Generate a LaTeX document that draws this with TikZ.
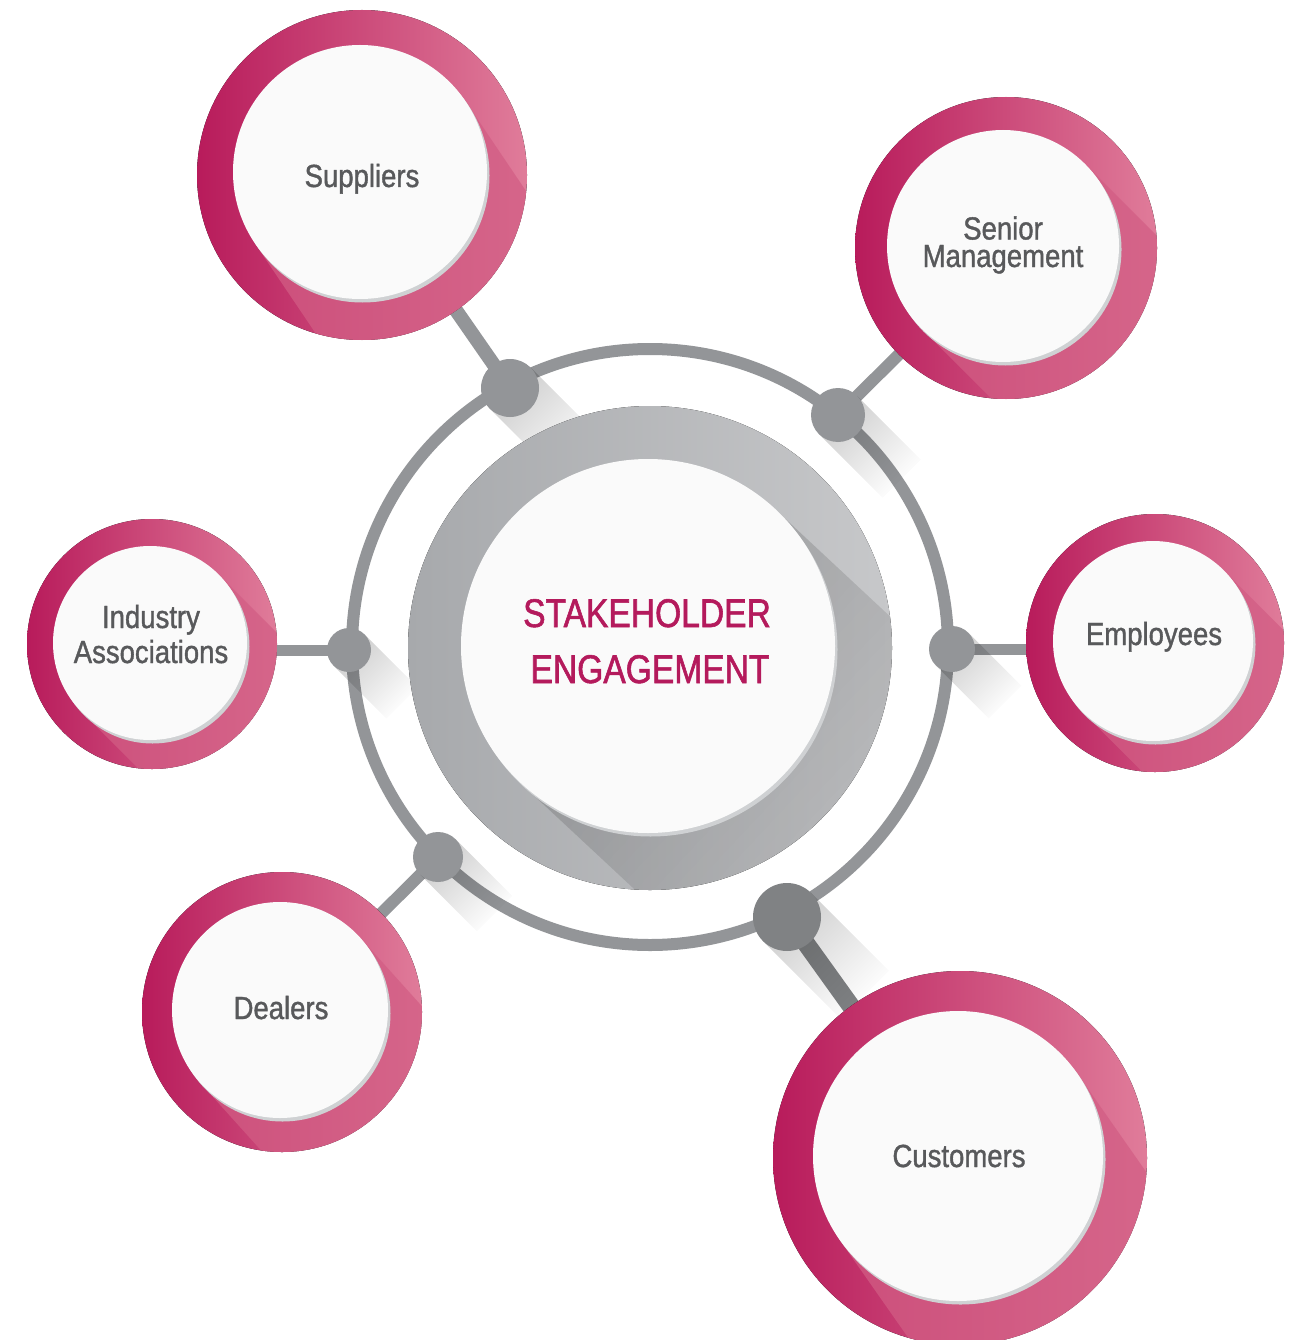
\documentclass[tikz,border=0pt]{standalone}
\usepackage{fontspec}
\setmainfont{Liberation Sans}[FakeStretch=0.86, FakeBold=1.2]
\newfontfamily\centerfont{Liberation Sans}[FakeStretch=0.84, FakeBold=1.4]
\usetikzlibrary{calc,fadings}
\definecolor{pinkL}{HTML}{B81B5B}
\definecolor{pinkM}{HTML}{C8326C}
\definecolor{pinkR}{HTML}{E07C9A}
\definecolor{pinkBand}{HTML}{D25D84}
\definecolor{ringgray}{HTML}{939598}
\definecolor{darkdot}{HTML}{808284}
\definecolor{diskL}{HTML}{A7A9AC}
\definecolor{diskR}{HTML}{C7C8CA}
\definecolor{whitedisk}{HTML}{FAFAFA}
\definecolor{lblgray}{HTML}{58595B}
\definecolor{titlemag}{HTML}{B41A5C}
\definecolor{rimshadow}{HTML}{CFD1D3}
\tikzfading[name=fadeaway, left color=transparent!0, right color=transparent!100]
\tikzset{
  pinkring/.style={left color=pinkL, middle color=pinkM, right color=pinkR},
  conn/.style={draw=ringgray, line cap=butt},
  dotfill/.style={fill=ringgray},
  lbl/.style={font=\fontsize{32}{34}\selectfont, text=lblgray, anchor=base, inner sep=0pt},
  lbltwo/.style={lbl, align=center},
  ttl/.style={font=\centerfont\fontsize{40}{44}\selectfont, text=titlemag, anchor=base, inner sep=0pt},
  dotshadow/.style={fill=black, opacity=.2, path fading=fadeaway, fading angle=-45},
}
% band swept from a circle: #1 centre, #2 half width, #3 length, #4 image angle, #5 style
\newcommand{\sweptband}[5]{%
  \fill[#5] ($(#1)+({#4-90}:#2)$) -- ($(#1)+({#4-90}:#2)+({#4}:#3)$) --
    ($(#1)+({#4+90}:#2)+({#4}:#3)$) -- ($(#1)+({#4+90}:#2)$) -- cycle;}
% satellite disk: #1 outer centre, #2 outer r, #3 inner centre, #4 inner r, #5 band angle
\newcommand{\satellite}[5]{%
  \fill[pinkring] (#1) circle[radius=#2pt];
  \begin{scope}
    \clip (#1) circle[radius=#2pt];
    \sweptband{#3}{#4}{2*#2}{#5}{pinkBand, opacity=.73}
  \end{scope}
  \fill[rimshadow] ($(#3)+(2.5,3.5)$) circle[radius=#4pt];
  \fill[whitedisk] (#3) circle[radius=#4pt];}
\begin{document}
\begin{tikzpicture}[x=1pt,y=-1pt]
\fill[white] (0,0) rectangle (1295,1340);
\useasboundingbox (0,0) rectangle (1295,1340);
% centres
\coordinate (supO) at (362,175);  \coordinate (supI) at (360,172);
\coordinate (senO) at (1006,248); \coordinate (senI) at (1003,246);
\coordinate (indO) at (152,644);  \coordinate (indI) at (150,643);
\coordinate (empO) at (1155,643); \coordinate (empI) at (1153,641);
\coordinate (dealO) at (282,1012); \coordinate (dealI) at (280,1010);
\coordinate (cusO) at (960,1158); \coordinate (cusI) at (958,1156);
\coordinate (ringC) at (650,647);
\coordinate (grayC) at (650,648);
\coordinate (whiteC) at (648,646);
% dots on ring
\coordinate (dSup) at (510,388);
\coordinate (dSen) at (838,415);
\coordinate (dInd) at (349,650);
\coordinate (dEmp) at (952,649);
\coordinate (dDeal) at (438,857);
\coordinate (dCus) at (787,917);
% connectors
\draw[conn, line width=14pt] (dSup) -- (supO);
\draw[conn, line width=12pt] (dSen) -- (senO);
\draw[conn, line width=11pt] (dInd) -- (dInd -| indO);
\draw[conn, line width=11pt] (dEmp) -- (dEmp -| empO);
\draw[conn, line width=12pt] (dDeal) -- (dealO);
\draw[conn, draw=darkdot, line width=18pt] (dCus) -- (cusO);
% ring
\draw[ringgray, line width=12pt] (ringC) circle[radius=298pt];
% dot shadows
\sweptband{dSup}{29}{95}{45}{dotshadow}
\sweptband{dSen}{27}{90}{45}{dotshadow}
\sweptband{dInd}{22}{75}{45}{dotshadow}
\sweptband{dEmp}{23}{75}{45}{dotshadow}
\sweptband{dDeal}{25}{80}{45}{dotshadow}
\sweptband{dCus}{34}{110}{45}{dotshadow}
% dots
\fill[dotfill] (dSup) circle[radius=29pt];
\fill[dotfill] (dSen) circle[radius=27pt];
\fill[dotfill] (dInd) circle[radius=22pt];
\fill[dotfill] (dEmp) circle[radius=23pt];
\fill[dotfill] (dDeal) circle[radius=25pt];
\fill[darkdot] (dCus) circle[radius=34pt];
% central disk
\fill[left color=diskL, right color=diskR] (grayC) circle[radius=242pt];
\begin{scope}
  \clip (grayC) circle[radius=242pt];
  \sweptband{whiteC}{187}{420}{43}{fill=black, opacity=.17, path fading=fadeaway, fading angle=-43}
\end{scope}
\fill[rimshadow] ($(whiteC)+(2.5,3.5)$) circle[radius=187pt];
\fill[whitedisk] (whiteC) circle[radius=187pt];
\node[ttl] (title1) at (647,627) {STAKEHOLDER};
\node[ttl] (title2) at (650,683) {ENGAGEMENT};
% satellites
\satellite{supO}{165}{supI}{127}{56}
\satellite{senO}{151}{senI}{116}{45}
\satellite{indO}{125}{indI}{97}{45}
\satellite{empO}{129}{empI}{100}{45}
\satellite{dealO}{140}{dealI}{108}{48}
\satellite{cusO}{187}{cusI}{145}{55}
% labels
\node[lbl] (sup) at (362,187) {Suppliers};
\node[lbltwo, font=\fontsize{32}{27.5}\selectfont] (sen) at (1003,267) {Senior\\Management};
\node[lbltwo, font=\fontsize{32}{35}\selectfont] (ind) at (151,663) {Industry\\Associations};
\node[lbl] (emp) at (1154,645) {Employees};
\node[lbl] (deal) at (281,1019) {Dealers};
\node[lbl] (cus) at (959,1167) {Customers};
\end{tikzpicture}
\end{document}
